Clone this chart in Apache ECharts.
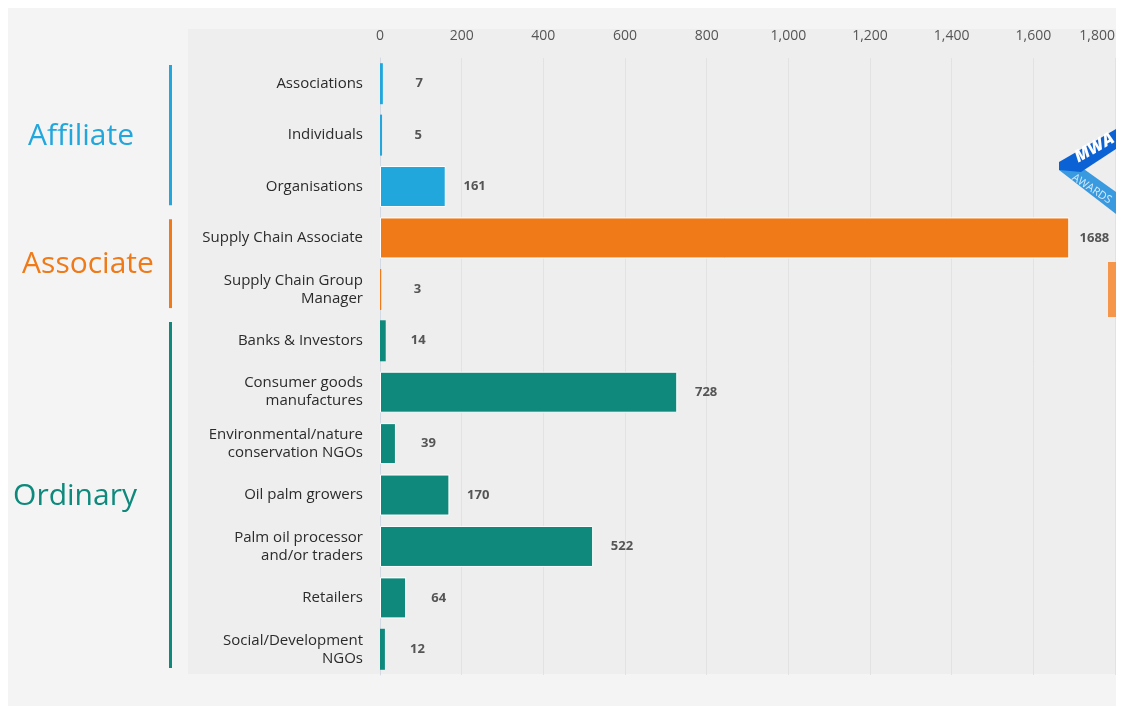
<!DOCTYPE html>
<html>
<head>
<meta charset="utf-8">
<script src="https://cdn.jsdelivr.net/npm/echarts@6/dist/echarts.min.js"></script>
<style>
html,body{margin:0;padding:0;background:#fff;}
#chart{width:1122px;height:707px;}
</style>
</head>
<body>
<div id="chart"></div>
<script>
// ---- data ----
var categories = [
  'Associations', 'Individuals', 'Organisations',
  'Supply Chain Associate', 'Supply Chain Group\nManager',
  'Banks & Investors', 'Consumer goods\nmanufactures', 'Environmental/nature\nconservation NGOs',
  'Oil palm growers', 'Palm oil processor\nand/or traders', 'Retailers', 'Social/Development\nNGOs'
];
var values = [7, 5, 161, 1688, 3, 14, 728, 39, 170, 522, 64, 12];
var groupNames = ['Affiliate', 'Associate', 'Ordinary'];
var groupStart = [0, 3, 5];
var groupEnd = [2, 4, 11];
var groupColors = ['#22a7dc', '#ef7a17', '#0e897c'];
var xTicks = [0, 200, 400, 600, 800, 1000, 1200, 1400, 1600, 1800];

// ---- layout ----
var groupLabelX = [81, 88, 75];
var FONT = "'Open Sans', 'Noto Sans', sans-serif";

function groupOf(i) {
  for (var g = 0; g < groupStart.length; g++) {
    if (i >= groupStart[g] && i <= groupEnd[g]) return g;
  }
  return 0;
}

var barData = values.map(function (v, i) {
  return {
    value: v,
    itemStyle: {
      color: groupColors[groupOf(i)],
      borderColor: '#ffffff',
      borderWidth: v >= 30 ? 1 : 0
    }
  };
});

var chart = echarts.init(document.getElementById('chart'), null, { renderer: 'canvas' });

var bgGraphics = [
  { type: 'rect', shape: { x: 8, y: 8, width: 1108, height: 698 }, style: { fill: '#f4f4f4' }, z: -20, silent: true },
  { type: 'rect', shape: { x: 188, y: 29, width: 928, height: 645 }, style: { fill: '#eeeeee' }, z: -19, silent: true }
];

chart.setOption({
  backgroundColor: '#ffffff',
  animation: false,
  grid: { left: 380, right: 7, top: 58, bottom: 32, containLabel: false, outerBoundsMode: 'none' },
  xAxis: {
    type: 'value',
    position: 'top',
    min: xTicks[0],
    max: xTicks[xTicks.length - 1],
    interval: xTicks[1] - xTicks[0],
    axisLine: { show: false },
    axisTick: { show: false },
    splitLine: { show: true, lineStyle: { color: '#e2e2e2', width: 1 } },
    axisLabel: {
      margin: 15,
      color: '#555',
      fontSize: 14,
      fontFamily: FONT,
      hideOverlap: false,
      alignMaxLabel: 'right',
      formatter: function (v) { return v.toLocaleString('en-US'); }
    }
  },
  yAxis: {
    type: 'category',
    inverse: true,
    data: categories,
    axisLine: { show: true, lineStyle: { color: '#d3d9e2', width: 1 } },
    axisTick: { show: false },
    axisLabel: {
      margin: 17,
      color: '#2b2b2b',
      fontSize: 15,
      lineHeight: 18,
      fontFamily: FONT,
      align: 'right'
    }
  },
  series: [{
    type: 'bar',
    data: barData,
    barWidth: 41,
    label: {
      show: true,
      position: 'right',
      distance: 2,
      formatter: '{v|{c}}',
      rich: {
        v: { width: 38, align: 'right', fontSize: 13, fontWeight: 'bold', color: '#555', fontFamily: FONT }
      }
    }
  }],
  graphic: { elements: bgGraphics }
});

// group labels & brackets computed from axis
var rowH = chart.convertToPixel({ yAxisIndex: 0 }, categories[1]) - chart.convertToPixel({ yAxisIndex: 0 }, categories[0]);
var extra = bgGraphics.slice();
for (var g = 0; g < groupNames.length; g++) {
  var yTop = chart.convertToPixel({ yAxisIndex: 0 }, categories[groupStart[g]]) - rowH / 2;
  var yBot = chart.convertToPixel({ yAxisIndex: 0 }, categories[groupEnd[g]]) + rowH / 2;
  extra.push({
    type: 'rect',
    shape: { x: 169, y: yTop + 7, width: 3, height: yBot - yTop - 14 },
    style: { fill: groupColors[g] },
    z: 5, silent: true
  });
  extra.push({
    type: 'text',
    x: groupLabelX[g],
    y: (yTop + yBot) / 2 + 1,
    style: {
      text: groupNames[g],
      fill: groupColors[g],
      font: '500 30px ' + FONT,
      textAlign: 'center',
      textVerticalAlign: 'middle'
    },
    z: 5, silent: true
  });
}
// decorative partial badge at right edge
extra.push({ type: 'polygon', shape: { points: [[1059, 170], [1081, 167], [1116, 192], [1116, 214]] }, style: { fill: '#3a9ae0' }, z: 30, silent: true });
extra.push({ type: 'polygon', shape: { points: [[1059, 162], [1116, 129], [1116, 149], [1081, 172], [1059, 170]] }, style: { fill: '#0b62d4' }, z: 31, silent: true });
extra.push({ type: 'text', x: 1080, y: 166, rotation: 0.52, style: { text: 'MWA', fill: '#ffffff', font: 'italic 900 17px ' + FONT, textAlign: 'left', textVerticalAlign: 'bottom' }, z: 32, silent: true });
extra.push({ type: 'text', x: 1076, y: 172, rotation: -0.58, style: { text: 'AWARDS', fill: '#d6eafa', font: '11px ' + FONT, textAlign: 'left', textVerticalAlign: 'top' }, z: 32, silent: true });
extra.push({ type: 'rect', shape: { x: 1108, y: 262, width: 8, height: 55 }, style: { fill: '#f6964a' }, z: 30, silent: true });
// page edge
extra.push({ type: 'rect', shape: { x: 1116, y: 0, width: 10, height: 707 }, style: { fill: '#ffffff' }, z: 100, silent: true });

chart.setOption({ graphic: { elements: extra } }, { replaceMerge: ['graphic'] });
</script>
</body>
</html>
